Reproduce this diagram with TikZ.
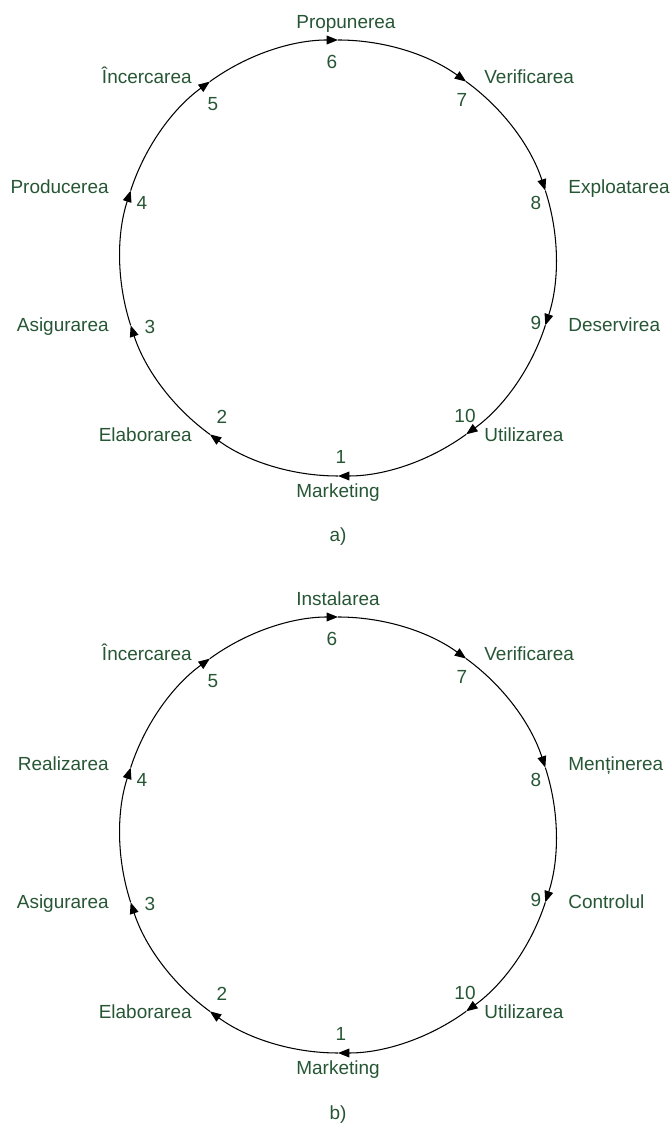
\documentclass[tikz,border=0pt]{standalone}
\usepackage{fontspec}
\setmainfont{Liberation Sans}
\usetikzlibrary{arrows.meta,calc}
\definecolor{labelgreen}{RGB}{38,86,52}
\tikzset{
  lbl/.style={text=labelgreen,font=\fontsize{10.8}{13}\selectfont,inner sep=0pt},
  ring/.style={line width=0.6pt,-{Triangle[length=6.5pt,width=5pt]}},
}

\begin{document}
\begin{tikzpicture}[x=0.02cm,y=0.02cm]
	\useasboundingbox (0,0) rectangle (672,1126);
	% a)
	\coordinate (ca) at (338,868);
	\foreach \k in {1,...,10}
		\coordinate (a\k) at ($(ca)+({306-36*\k}:218)$);
	\foreach \k [evaluate=\k as \ang using 306-36*\k] in {1,...,10}
		\draw[ring] (a\k) arc[start angle=\ang, end angle=\ang-36, radius=218];
	\node[lbl] (na1) at ($(ca)+(3,-199)$) {1};
	\node[lbl] (na2) at ($(ca)+(-116,-159)$) {2};
	\node[lbl] (na3) at ($(ca)+(-188,-69)$) {3};
	\node[lbl] (na4) at ($(ca)+(-196,55)$) {4};
	\node[lbl] (na5) at ($(ca)+(-125,154)$) {5};
	\node[lbl] (na6) at ($(ca)+(-6,196)$) {6};
	\node[lbl] (na7) at ($(ca)+(124,158)$) {7};
	\node[lbl] (na8) at ($(ca)+(198,55)$) {8};
	\node[lbl] (na9) at ($(ca)+(198,-65)$) {9};
	\node[lbl] (na10) at ($(ca)+(127,-158)$) {10};
	\node[lbl,anchor=mid west] (ta1) at ($(ca)+(-42,-235)$) {Marketing};
	\node[lbl,anchor=mid east] (ta2) at ($(ca)+(-146,-179)$) {Elaborarea};
	\node[lbl,anchor=mid east] (ta3) at ($(ca)+(-229,-69)$) {Asigurarea};
	\node[lbl,anchor=mid east] (ta4) at ($(ca)+(-229,69)$) {Producerea};
	\node[lbl,anchor=mid east] (ta5) at ($(ca)+(-146,179)$) {Încercarea};
	\node[lbl,anchor=mid west] (ta6) at ($(ca)+(-42,234)$) {Propunerea};
	\node[lbl,anchor=mid west] (ta7) at ($(ca)+(146,179)$) {Verificarea};
	\node[lbl,anchor=mid west] (ta8) at ($(ca)+(230,69)$) {Exploatarea};
	\node[lbl,anchor=mid west] (ta9) at ($(ca)+(230,-69)$) {Deservirea};
	\node[lbl,anchor=mid west] (ta10) at ($(ca)+(146,-179)$) {Utilizarea};
	\node[lbl] (capa) at ($(ca)+(0,-279)$) {a)};
	% b)
	\coordinate (cb) at (338,291);
	\foreach \k in {1,...,10}
		\coordinate (b\k) at ($(cb)+({306-36*\k}:218)$);
	\foreach \k [evaluate=\k as \ang using 306-36*\k] in {1,...,10}
		\draw[ring] (b\k) arc[start angle=\ang, end angle=\ang-36, radius=218];
	\node[lbl] (nb1) at ($(cb)+(3,-199)$) {1};
	\node[lbl] (nb2) at ($(cb)+(-116,-159)$) {2};
	\node[lbl] (nb3) at ($(cb)+(-188,-69)$) {3};
	\node[lbl] (nb4) at ($(cb)+(-196,55)$) {4};
	\node[lbl] (nb5) at ($(cb)+(-125,154)$) {5};
	\node[lbl] (nb6) at ($(cb)+(-6,196)$) {6};
	\node[lbl] (nb7) at ($(cb)+(124,158)$) {7};
	\node[lbl] (nb8) at ($(cb)+(198,55)$) {8};
	\node[lbl] (nb9) at ($(cb)+(198,-65)$) {9};
	\node[lbl] (nb10) at ($(cb)+(127,-158)$) {10};
	\node[lbl,anchor=mid west] (tb1) at ($(cb)+(-42,-235)$) {Marketing};
	\node[lbl,anchor=mid east] (tb2) at ($(cb)+(-146,-179)$) {Elaborarea};
	\node[lbl,anchor=mid east] (tb3) at ($(cb)+(-229,-69)$) {Asigurarea};
	\node[lbl,anchor=mid east] (tb4) at ($(cb)+(-229,69)$) {Realizarea};
	\node[lbl,anchor=mid east] (tb5) at ($(cb)+(-146,179)$) {Încercarea};
	\node[lbl,anchor=mid west] (tb6) at ($(cb)+(-42,234)$) {Instalarea};
	\node[lbl,anchor=mid west] (tb7) at ($(cb)+(146,179)$) {Verificarea};
	\node[lbl,anchor=mid west] (tb8) at ($(cb)+(230,69)$) {Menținerea};
	\node[lbl,anchor=mid west] (tb9) at ($(cb)+(230,-69)$) {Controlul};
	\node[lbl,anchor=mid west] (tb10) at ($(cb)+(146,-179)$) {Utilizarea};
	\node[lbl] (capb) at ($(cb)+(0,-280)$) {b)};
\end{tikzpicture}
\end{document}
